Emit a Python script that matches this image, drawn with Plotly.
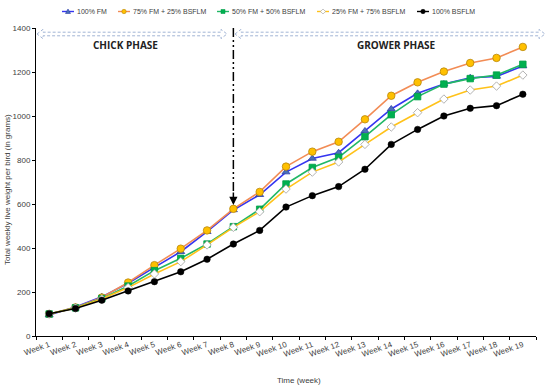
import plotly.graph_objects as go

weeks = [f"Week {i}" for i in range(1, 20)]

fm100 = [95, 132, 178, 240, 312, 383, 474, 573, 642, 745, 807, 833, 932, 1032, 1103, 1145, 1174, 1180, 1227]
fm75 = [100, 130, 175, 243, 322, 397, 480, 578, 655, 770, 838, 883, 985, 1092, 1153, 1202, 1241, 1264, 1314]
fm50 = [100, 128, 170, 227, 297, 353, 418, 497, 576, 691, 766, 812, 906, 1006, 1088, 1145, 1170, 1186, 1235]
fm25 = [100, 127, 168, 220, 282, 338, 414, 494, 565, 668, 745, 791, 871, 950, 1015, 1077, 1118, 1136, 1186]
bsf100 = [101, 125, 163, 205, 247, 292, 349, 418, 480, 586, 638, 679, 758, 871, 939, 1000, 1035, 1047, 1099]

W, H = 550, 389
L, R, T, B = 36, 14, 28, 53
PW, PH = W - L - R, H - T - B


def px(x):
    return (x - L) / PW


def py(y):
    return (H - B - y) / PH


series = [
    ("100% FM", fm100, "#3535f0", dict(symbol="triangle-up", color="#4a70b8", size=7, line=dict(color="#2f3fa8", width=0.8))),
    ("75% FM + 25% BSFLM", fm75, "#f28c55", dict(symbol="circle", color="#ffc000", size=7.5, line=dict(color="#b8860b", width=0.8))),
    ("50% FM + 50% BSFLM", fm50, "#22b866", dict(symbol="square", color="#00b050", size=6.5, line=dict(color="#00a048", width=0.8))),
    ("25% FM + 75% BSFLM", fm25, "#ffc21a", dict(symbol="diamond", color="white", size=6.5, line=dict(color="#a0a0a0", width=0.8))),
    ("100% BSFLM", bsf100, "#000000", dict(symbol="circle", color="#000000", size=6.5, line=dict(color="#000000", width=0.5))),
]

fig = go.Figure()
for name, vals, col, mk in series:
    fig.add_trace(go.Scatter(x=weeks, y=vals, name=name, mode="lines+markers", showlegend=False,
                             line=dict(color=col, width=1.6), marker=mk))


def poly(pts, line, fill, dash="solid", width=1):
    d = "M " + " L ".join(f"{px(a):.5f},{py(b):.5f}" for a, b in pts) + " Z"
    return dict(type="path", xref="paper", yref="paper", path=d,
                line=dict(color=line, width=width, dash=dash), fillcolor=fill)


def dbl_arrow(x0, x1, yc, hs=1.8, hh=4.6, hl=6):
    pts = [(x0, yc), (x0 + hl, yc - hh), (x0 + hl, yc - hs), (x1 - hl, yc - hs), (x1 - hl, yc - hh),
           (x1, yc), (x1 - hl, yc + hh), (x1 - hl, yc + hs), (x0 + hl, yc + hs), (x0 + hl, yc + hh)]
    return poly(pts, "#a3b5d5", "rgba(0,0,0,0)", dash="3px,2px")


shapes = [
    dbl_arrow(37, 227, 34),
    dbl_arrow(235, 545, 34),
    dict(type="line", xref="x", yref="paper", x0=weeks[7], x1=weeks[7], y0=1.0, y1=py(192),
         line=dict(color="black", width=1.5, dash="9px,3px,2px,3px,2px,3px")),
]

annotations = [
    dict(x=weeks[7], y=595, xref="x", yref="y", ax=0, ay=-14, text="", showarrow=True,
         arrowhead=2, arrowsize=1.1, arrowwidth=1.5, arrowcolor="black"),
    dict(x=px(125), y=py(45), xref="paper", yref="paper", text="<b>CHICK PHASE</b>", showarrow=False,
         font=dict(size=10, color="#222222", family="Open Sans, Liberation Sans, Arial"), xanchor="center", yanchor="middle"),
    dict(x=px(396), y=py(45), xref="paper", yref="paper", text="<b>GROWER PHASE</b>", showarrow=False,
         font=dict(size=10, color="#222222", family="Open Sans, Liberation Sans, Arial"), xanchor="center", yanchor="middle"),
    dict(x=px(299), y=py(380), xref="paper", yref="paper", text="Time (week)", showarrow=False,
         font=dict(size=8, color="#404040"), xanchor="center", yanchor="middle"),
    dict(x=px(7), y=py(190), xref="paper", yref="paper", text="Total weekly live weight per bird (in grams)",
         showarrow=False, textangle=-90, font=dict(size=8, color="#404040"), xanchor="center", yanchor="middle"),
]

# custom legend (layout only): symbol start positions in pixels
leg_x = [62, 118, 217, 317, 417]
leg_y = 11.5
for (name, vals, col, mk), sx in zip(series, leg_x):
    cx = sx + 6
    shapes.append(dict(type="line", xref="paper", yref="paper", x0=px(sx), x1=px(sx + 12),
                       y0=py(leg_y), y1=py(leg_y), line=dict(color=col, width=1.4)))
    r = 2.2
    fc, lc = mk["color"], mk["line"]["color"]
    s = mk["symbol"]
    if s == "circle":
        shapes.append(dict(type="circle", xref="paper", yref="paper", x0=px(cx - r), x1=px(cx + r),
                           y0=py(leg_y + r), y1=py(leg_y - r), fillcolor=fc, line=dict(color=lc, width=0.6)))
    elif s == "square":
        shapes.append(dict(type="rect", xref="paper", yref="paper", x0=px(cx - 2), x1=px(cx + 2),
                           y0=py(leg_y + 2), y1=py(leg_y - 2), fillcolor=fc, line=dict(color=lc, width=0.6)))
    elif s == "triangle-up":
        shapes.append(poly([(cx - 2.5, leg_y + 2), (cx + 2.5, leg_y + 2), (cx, leg_y - 2.5)], lc, fc, width=0.6))
    else:
        shapes.append(poly([(cx - 2.5, leg_y), (cx, leg_y - 2.5), (cx + 2.5, leg_y), (cx, leg_y + 2.5)], lc, fc, width=0.6))
    annotations.append(dict(x=px(sx + 12.5), y=py(leg_y), xref="paper", yref="paper", text=name, showarrow=False,
                            xanchor="left", yanchor="middle", font=dict(size=7, color="#404040")))

fig.update_layout(
    width=W, height=H,
    margin=dict(l=L, r=R, t=T, b=B),
    paper_bgcolor="white", plot_bgcolor="white",
    font=dict(family="Liberation Sans, Arial", size=8, color="#404040"),
    showlegend=False,
    shapes=shapes, annotations=annotations,
)
fig.update_xaxes(type="category", range=[-0.5, 18.5], showline=True, linecolor="black", linewidth=1,
                 ticks="outside", ticklen=3, tickcolor="black", tickson="boundaries", tickangle=-20,
                 showgrid=False, zeroline=False, automargin=False, tickfont=dict(size=8, color="#404040"))
fig.update_yaxes(range=[0, 1400], dtick=200, showline=True, linecolor="black", linewidth=1,
                 ticks="outside", ticklen=3, tickcolor="black", showgrid=False, zeroline=False,
                 automargin=False, tickfont=dict(size=8, color="#404040"))

fig.write_html("out.html", config={"displayModeBar": False},
               post_script="document.body.style.margin='0';document.body.style.overflow='hidden';")
